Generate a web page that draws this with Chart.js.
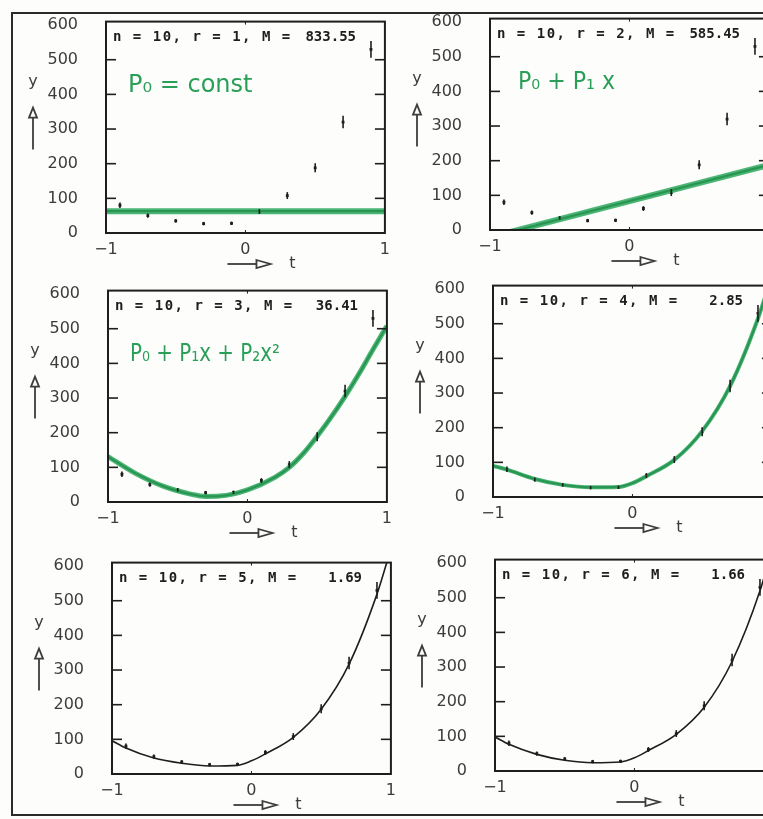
<!DOCTYPE html>
<html>
<head>
<meta charset="utf-8">
<script src="https://cdn.jsdelivr.net/npm/chart.js"></script>
<style>
  html, body { margin: 0; padding: 0; background: #fff; }
  #page { position: relative; width: 763px; height: 819px; overflow: hidden; background: #fdfdfc; }
  #frame { position: absolute; left: 11px; top: 12px; width: 820px; height: 804px; border: 2px solid #2b2b2b; box-sizing: border-box; }
  canvas { position: absolute; }
</style>
</head>
<body>
<div id="page">
  <div id="frame"></div>
</div>
<script>
// ===== data =====
const tValues = [-0.9, -0.7, -0.5, -0.3, -0.1, 0.1, 0.3, 0.5, 0.7, 0.9];
const yValues = [80, 50, 35, 27, 28, 62, 108, 188, 320, 530];
const yErrors = [8, 6, 5, 5, 5, 7, 10, 13, 18, 24];

const xTickValues = [-1, 0, 1];
const yTickValues = [0, 100, 200, 300, 400, 500, 600];

const nCount = 10;
const orders = [1, 2, 3, 4, 5, 6];
const mValues = ['833.55', '585.45', '36.41', '2.85', '1.69', '1.66'];
const notes = ['P₀ = const', 'P₀ + P₁ x', 'P₀ + P₁x + P₂x²', '', '', ''];

// fitted curves
const fit1T = [-1, 1];
const fit1Y = [63, 63];
const fit2T = [-1, 1];
const fit2Y = [-21, 188];
const fit3T = [-1, -0.8, -0.6, -0.4, -0.3, -0.2, 0, 0.2, 0.3, 0.4, 0.5, 0.6, 0.7, 0.8, 0.9, 1];
const fit3Y = [131, 82, 45, 22, 16, 17, 35, 72, 100, 140, 190, 245, 305, 370, 440, 508];
const fit4T = [-1, -0.9, -0.7, -0.5, -0.3, -0.1, 0, 0.1, 0.3, 0.5, 0.7, 0.9, 1];
const fit4Y = [90, 79, 52, 35, 28, 29, 40, 60, 107, 190, 320, 515, 640];
const fit5T = [-1, -0.9, -0.7, -0.5, -0.3, -0.1, 0, 0.1, 0.3, 0.5, 0.7, 0.9, 1];
const fit5Y = [96, 75, 46, 31, 23, 25, 38, 58, 106, 187, 317, 519, 650];
const fit6T = [-1, -0.9, -0.7, -0.5, -0.3, -0.1, 0, 0.1, 0.3, 0.5, 0.7, 0.9, 1];
const fit6Y = [98, 77, 48, 31, 24, 26, 38, 59, 106, 184, 316, 520, 660];

const fitT = [fit1T, fit2T, fit3T, fit4T, fit5T, fit6T];
const fitY = [fit1Y, fit2Y, fit3Y, fit4Y, fit5Y, fit6Y];

// ===== layout =====
const INK = '#1e1e1e';
const LABEL = '#3c3c3c';
const GREEN = 'rgba(44, 168, 92, 0.85)';
const PLOT_W = 279, PLOT_H = 211;
const PAD_L = 100, PAD_T = 12, PAD_R = 12, PAD_B = 62;

// frame left / top of each plot box, plus where the green note sits
const panels = [
  { left: 106, top: 22, glow: 6, noteX: 22, noteW: 125 },
  { left: 490, top: 19, glow: 6, noteX: 28, noteW: 97 },
  { left: 108, top: 291, glow: 5, noteX: 22, noteW: 150 },
  { left: 493, top: 286, glow: 4 },
  { left: 112, top: 563, glow: 0 },
  { left: 495, top: 560, glow: 0 },
];

function line(ctx, x1, y1, x2, y2) {
  ctx.beginPath();
  ctx.moveTo(x1, y1);
  ctx.lineTo(x2, y2);
  ctx.stroke();
}

const panelDecor = {
  id: 'panelDecor',
  afterDatasetsDraw(chart, args, opts) {
    const { ctx, chartArea: a, scales: { x, y } } = chart;
    ctx.save();
    ctx.strokeStyle = INK;
    ctx.fillStyle = INK;

    // error bars
    ctx.lineWidth = 1.6;
    tValues.forEach((t, i) => {
      const px = x.getPixelForValue(t);
      line(ctx, px, y.getPixelForValue(yValues[i] - yErrors[i]), px, y.getPixelForValue(yValues[i] + yErrors[i]));
    });

    // box and inner ticks
    ctx.lineWidth = 2;
    ctx.strokeRect(a.left, a.top, a.width, a.height);
    ctx.lineWidth = 1.6;
    yTickValues.filter(v => v > 0 && v < 600).forEach(v => {
      const py = y.getPixelForValue(v);
      line(ctx, a.left, py, a.left + 10, py);
      line(ctx, a.right - 10, py, a.right, py);
    });
    const x0 = x.getPixelForValue(0);
    ctx.lineWidth = 1;
    line(ctx, x0, a.top, x0, a.top + 3);
    line(ctx, x0, a.bottom, x0, a.bottom - 3);

    // header n, r, M
    ctx.font = 'bold 14px "DejaVu Sans Mono", monospace';
    ctx.textBaseline = 'middle';
    ctx.textAlign = 'left';
    if ('letterSpacing' in ctx) ctx.letterSpacing = '1.5px';
    ctx.fillText(`n = ${nCount}, r = ${opts.order}, M =`, a.left + 7, a.top + 16);
    if ('letterSpacing' in ctx) ctx.letterSpacing = '0px';
    ctx.textAlign = 'right';
    ctx.fillText(opts.m, a.left + 250, a.top + 16);

    // handwritten note
    if (opts.note) {
      ctx.fillStyle = '#2a9f58';
      ctx.font = '24px "DejaVu Sans", sans-serif';
      ctx.textAlign = 'left';
      ctx.fillText(opts.note, a.left + opts.noteX, a.top + 64, opts.noteW);
    }

    // y label with arrow
    ctx.fillStyle = LABEL;
    ctx.strokeStyle = LABEL;
    ctx.font = '16px "DejaVu Sans", sans-serif';
    ctx.textAlign = 'center';
    const yx = a.left - 73;
    ctx.fillText('y', yx, a.top + 60);
    ctx.lineWidth = 1.8;
    line(ctx, yx, a.top + 96, yx, a.top + 128);
    ctx.beginPath();
    ctx.moveTo(yx, a.top + 86);
    ctx.lineTo(yx - 4, a.top + 96);
    ctx.lineTo(yx + 4, a.top + 96);
    ctx.closePath();
    ctx.stroke();

    // t label with arrow
    const ty = a.bottom + 31;
    line(ctx, x0 - 18, ty, x0 + 11, ty);
    ctx.beginPath();
    ctx.moveTo(x0 + 11, ty - 4);
    ctx.lineTo(x0 + 25, ty);
    ctx.lineTo(x0 + 11, ty + 4);
    ctx.closePath();
    ctx.stroke();
    ctx.fillText('t', x0 + 47, ty);

    ctx.restore();
  }
};

function buildChart(idx, extraTop) {
  const p = panels[idx];
  const canvas = document.createElement('canvas');
  canvas.width = PAD_L + PLOT_W + PAD_R;
  canvas.height = PAD_T + extraTop + PLOT_H + PAD_B;
  canvas.style.left = (p.left - PAD_L) + 'px';
  canvas.style.top = (p.top - PAD_T - extraTop) + 'px';
  document.getElementById('page').appendChild(canvas);

  const curve = fitT[idx].map((t, i) => ({ x: t, y: fitY[idx][i] }));
  const smooth = idx >= 2;
  const datasets = [];
  if (p.glow) {
    datasets.push({
      data: curve, showLine: true, pointRadius: 0, borderColor: GREEN, borderWidth: p.glow,
      cubicInterpolationMode: smooth ? 'monotone' : 'default', tension: 0, clip: 0,
    });
  }
  datasets.push({
    data: curve, showLine: true, pointRadius: 0, borderColor: p.glow ? '#17331f' : INK,
    borderWidth: p.glow ? 2.2 : 1.6,
    cubicInterpolationMode: smooth ? 'monotone' : 'default', tension: 0, clip: 0,
  });
  datasets.push({
    data: tValues.map((t, i) => ({ x: t, y: yValues[i] })),
    showLine: false, pointStyle: 'rect', pointRadius: 2, pointBackgroundColor: INK, pointBorderWidth: 0,
  });

  const tickFont = { family: '"DejaVu Sans", sans-serif', size: 16 };
  const noGrid = { display: false, drawTicks: false, tickLength: 0 };
  const chart = new Chart(canvas, {
    type: 'scatter',
    data: { datasets },
    options: {
      responsive: false,
      devicePixelRatio: 1,
      animation: false,
      events: [],
      layout: { padding: { top: PAD_T, right: PAD_R, left: 0, bottom: 0 } },
      plugins: {
        legend: { display: false },
        tooltip: { enabled: false },
        panelDecor: { order: orders[idx], m: mValues[idx], note: notes[idx], noteX: p.noteX || 0, noteW: p.noteW || 200 },
      },
      scales: {
        x: {
          type: 'linear', min: -1, max: 1,
          afterBuildTicks: s => { s.ticks = xTickValues.map(v => ({ value: v })); },
          afterFit: s => { s.height = PAD_B; },
          grid: noGrid, border: { display: false },
          ticks: { padding: 7, autoSkip: false, maxRotation: 0, color: LABEL, font: tickFont,
                   callback: v => (v < 0 ? '−' + Math.abs(v) : String(v)) },
        },
        y: {
          type: 'linear', min: 0, max: 610,
          afterBuildTicks: s => { s.ticks = yTickValues.map(v => ({ value: v })); },
          afterFit: s => { s.width = PAD_L; },
          grid: noGrid, border: { display: false },
          ticks: { padding: 28, autoSkip: false, color: LABEL, font: tickFont },
        },
      },
    },
    plugins: [panelDecor],
  });
  return { chart, canvas };
}

function makePanel(idx) {
  // first pass finds how much room the layout keeps above the plot box
  const first = buildChart(idx, 0);
  const extra = Math.round(first.chart.chartArea.top - PAD_T);
  if (extra !== 0) {
    first.chart.destroy();
    first.canvas.remove();
    buildChart(idx, extra);
  }
}

orders.forEach((r, i) => makePanel(i));
</script>
</body>
</html>
